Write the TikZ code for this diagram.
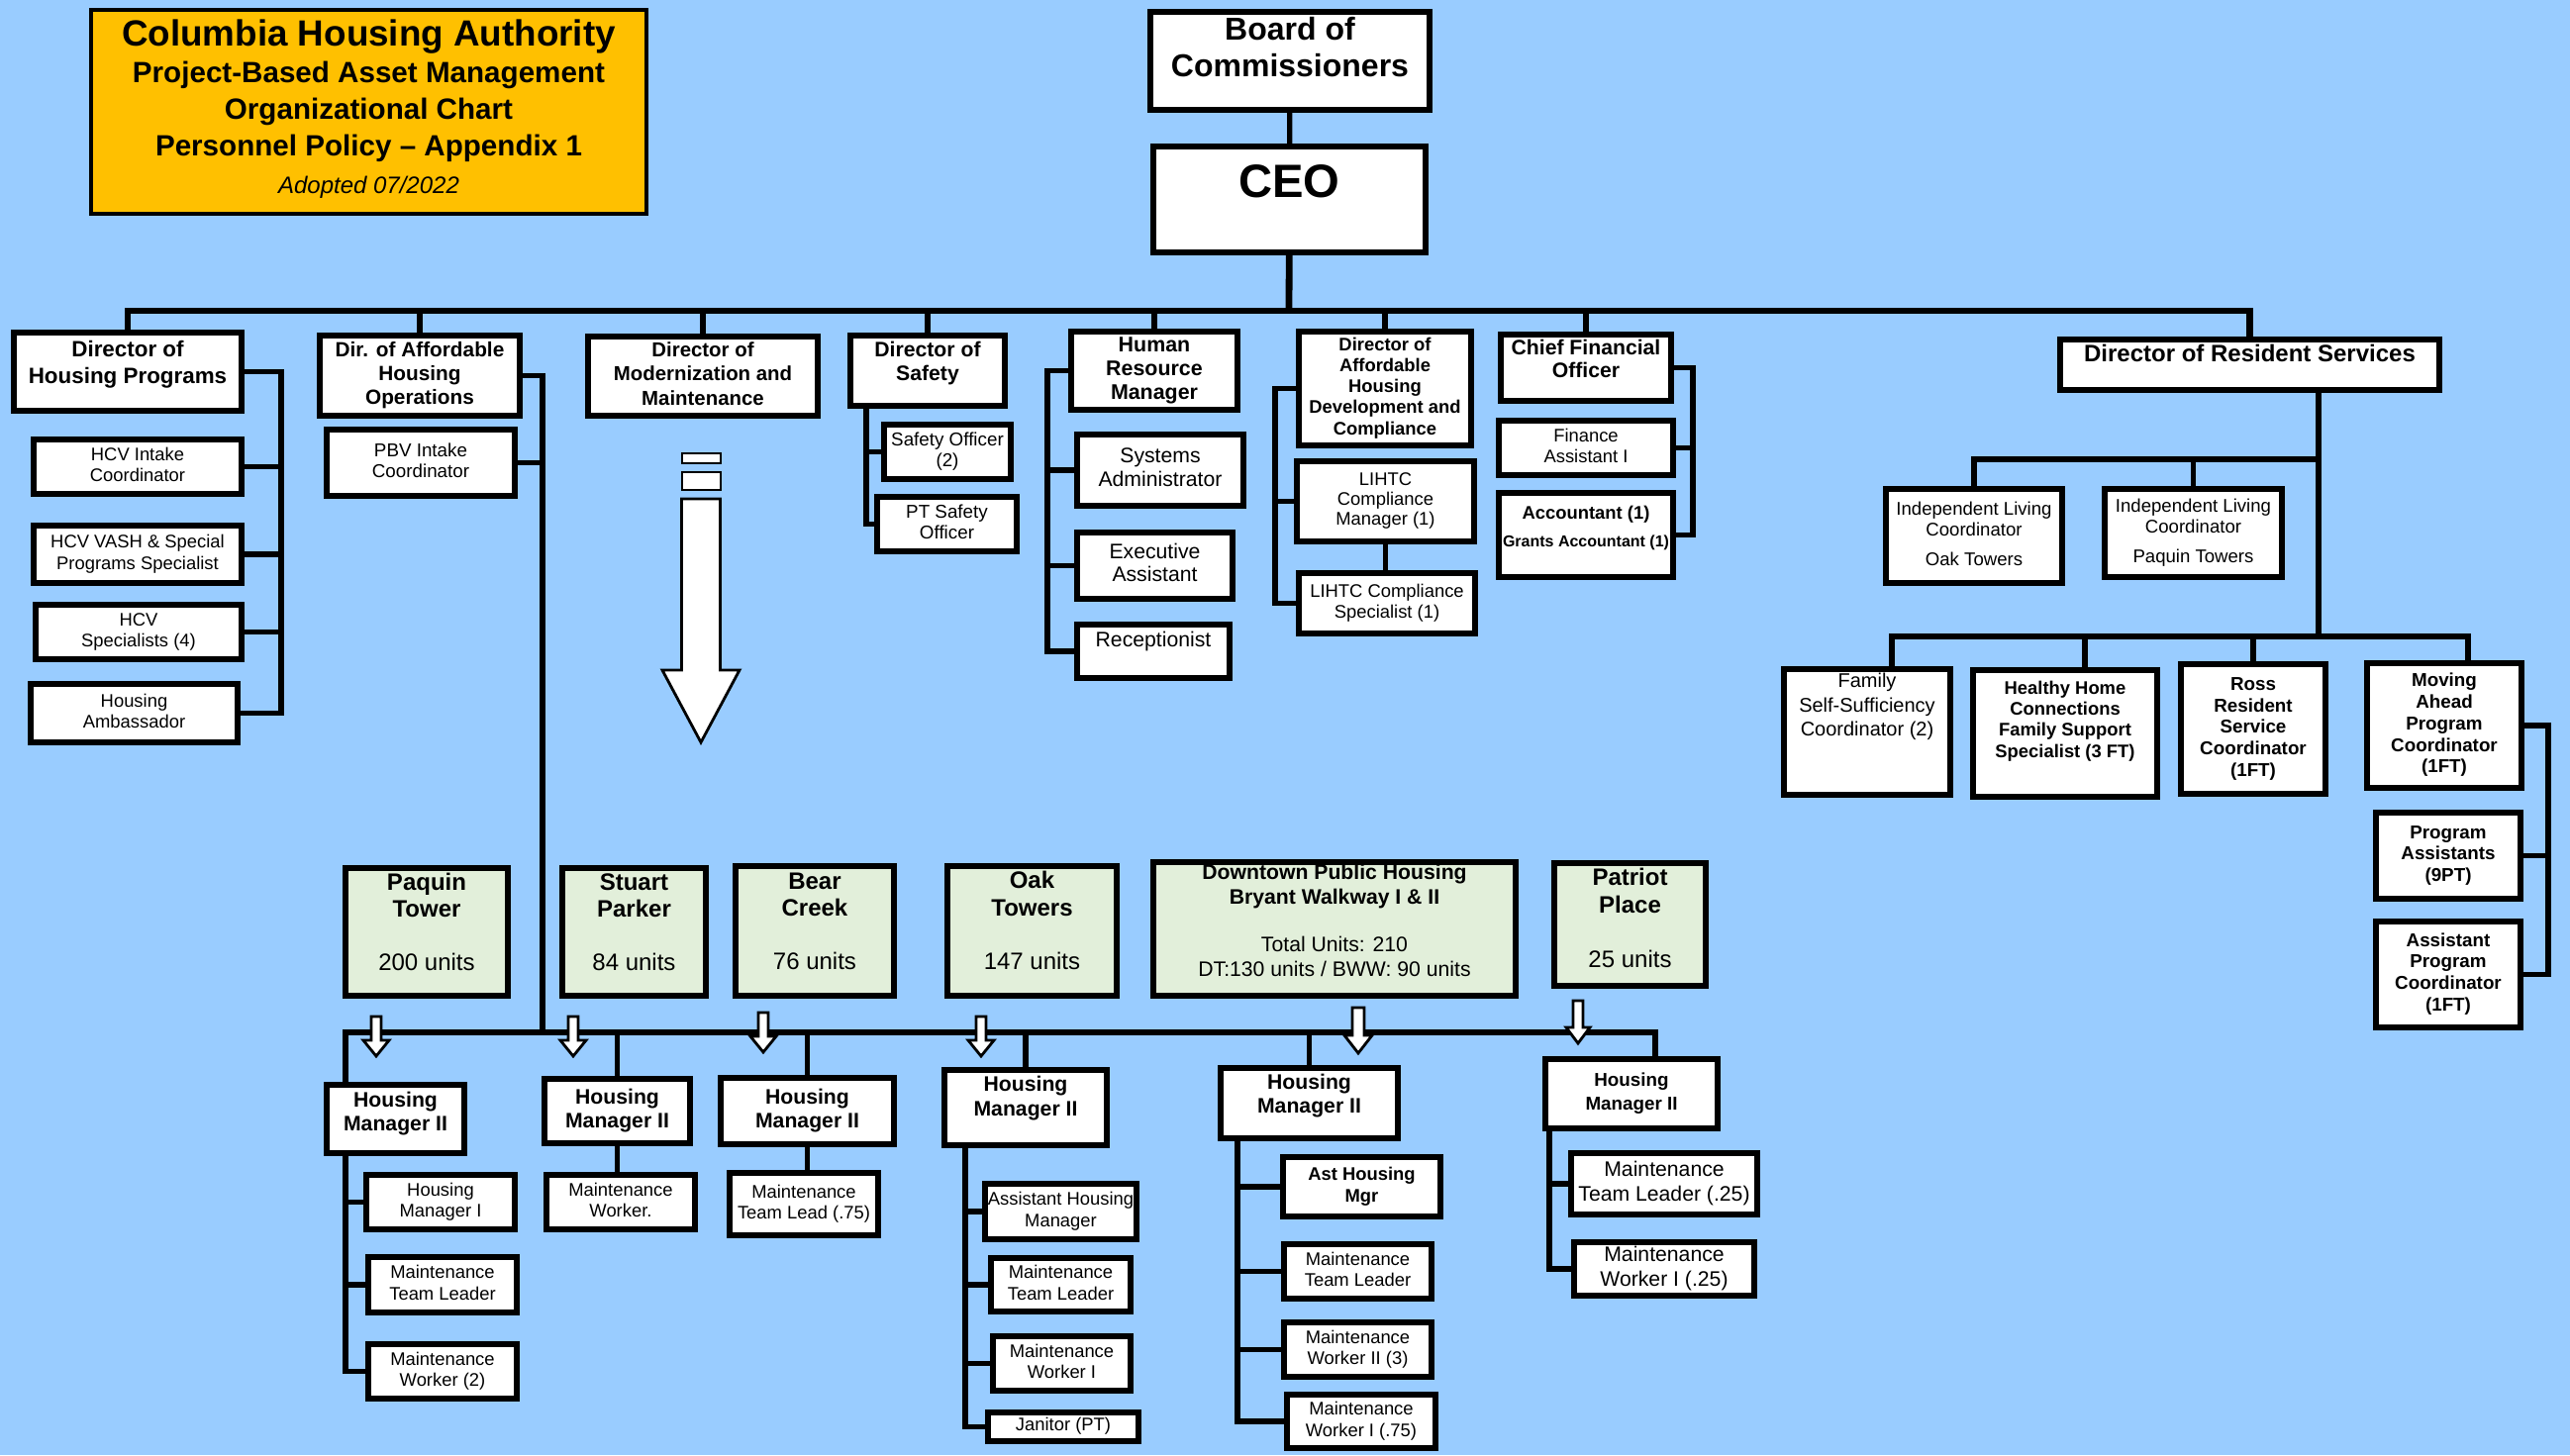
\documentclass[tikz,border=0pt]{standalone}
\usepackage{fontspec}
\setmainfont{Liberation Sans}
\definecolor{skyblue}{HTML}{99CCFF}
\definecolor{titlegold}{HTML}{FFC000}
\definecolor{propgreen}{HTML}{E2EFDA}
\newcommand\fsz[2]{\fontsize{#1}{#2}\selectfont}
\newcommand\lines[1]{\begin{tabular}{@{}c@{}}#1\end{tabular}}
% white block arrow pointing down: x, top, tip, half shaft, half head, head length
\newcommand\downblock[6]{%
  \filldraw[hollow] (#1-#4,#2) -- (#1+#4,#2) -- (#1+#4,#3-#6) -- (#1+#5,#3-#6)
    -- (#1,#3) -- (#1-#5,#3-#6) -- (#1-#4,#3-#6) -- cycle;}
\begin{document}
\begin{tikzpicture}[x=0.25pt, y=-0.25pt,
  spanbox/.style n args={4}{at={({(#1+#3)/2},{(#2+#4)/2})}, minimum width=(#3-#1)*0.25pt, minimum height=(#4-#2)*0.25pt},
  box/.style={draw, line width=1.5pt, fill=white, inner sep=0pt},
  dir/.style={box, font=\fsz{5.3}{6.2}\bfseries},
  staff/.style={box, line width=1.3pt, font=\fsz{4.6}{5.4}},
  staffb/.style={staff, font=\fsz{4.7}{5.45}\bfseries},
  prop/.style={box, fill=propgreen, font=\fsz{6}{6.8}},
  mgr/.style={box, font=\fsz{5.3}{6.2}\bfseries},
  titlebox/.style={draw, line width=0.8pt, fill=titlegold, inner sep=0pt, font=\fsz{7.4}{9.3}\bfseries},
  conn/.style={line width=1.3pt},
  bus/.style={line width=1.7pt},
  hollow/.style={fill=white, draw=black, line width=0.7pt}]
\path[use as bounding box, fill=skyblue] (0,0) rectangle (2596,1470);

% title
\node[titlebox, spanbox={92}{10}{653}{216}] (title) {\lines{{\fsz{9.2}{9.3}Columbia Housing Authority}\\Project-Based Asset Management\\Organizational Chart\\Personnel Policy – Appendix 1\\{\mdseries\itshape\fsz{6}{7}Adopted 07/2022}}};

% top of the chart
\node[dir, font=\fsz{8}{9.2}\bfseries, spanbox={1162}{12}{1444}{111}] (board) {\lines{Board of\\Commissioners\\[5pt]}};
\node[dir, font=\fsz{11.8}{14}\bfseries, spanbox={1165}{148}{1440}{255}] (ceo) {\lines{CEO\\[6.5pt]}};

% directors
\node[dir, font=\fsz{5.6}{6.7}\bfseries, spanbox={14}{336}{244}{415}] (dhp) {\lines{Director of\\Housing Programs\\[3.5pt]}};
\node[dir, font=\fsz{5.2}{6}\bfseries, spanbox={323}{339}{525}{420}] (daho) {\lines{Dir. of Affordable\\Housing\\Operations}};
\node[dir, font=\fsz{5.1}{6.1}\bfseries, spanbox={594}{340}{826}{420}] (dmm) {\lines{Director of\\Modernization and\\Maintenance}};
\node[dir, spanbox={859}{339}{1015}{410}] (safety) {\lines{Director of\\Safety\\[3.5pt]}};
\node[dir, font=\fsz{5.35}{6}\bfseries, spanbox={1082}{335}{1250}{414}] (hr) {\lines{Human\\Resource\\Manager}};
\node[dir, font=\fsz{4.6}{5.3}\bfseries, spanbox={1312}{335}{1486}{450}] (dahdc) {\lines{Director of\\Affordable\\Housing\\Development and\\Compliance}};
\node[dir, font=\fsz{5.3}{5.8}\bfseries, spanbox={1516}{338}{1688}{405}] (cfo) {\lines{Chief Financial\\Officer\\[3pt]}};
\node[dir, font=\fsz{6}{7}\bfseries, spanbox={2081}{343}{2464}{394}] (drs) {\lines{Director of Resident Services\\[4.5pt]}};

% housing programs
\node[staff, spanbox={34}{444}{244}{499}] (hcvi) {\lines{HCV Intake\\Coordinator}};
\node[staff, spanbox={34}{531}{244}{589}] (vash) {\lines{HCV VASH \& Special\\Programs Specialist}};
\node[staff, spanbox={36}{611}{244}{666}] (hcvs) {\lines{HCV\\Specialists (4)}};
\node[staff, spanbox={31}{691}{240}{750}] (hamb) {\lines{Housing\\Ambassador}};
\node[staff, font=\fsz{4.7}{5.4}, spanbox={330}{434}{520}{501}] (pbv) {\lines{PBV Intake\\Coordinator}};

% safety
\node[staff, font=\fsz{4.7}{5.4}, spanbox={893}{429}{1021}{484}] (safeoff) {\lines{Safety Officer\\(2)}};
\node[staff, font=\fsz{4.7}{5.4}, spanbox={886}{502}{1027}{557}] (ptsafe) {\lines{PT Safety\\Officer}};

% human resources
\node[staff, font=\fsz{5.3}{6}, spanbox={1088}{439}{1256}{511}] (sysadm) {\lines{Systems\\Administrator}};
\node[staff, font=\fsz{5.3}{5.8}, spanbox={1088}{538}{1245}{605}] (execa) {\lines{Executive\\Assistant}};
\node[staff, font=\fsz{5.3}{6.2}, spanbox={1088}{631}{1242}{685}] (recep) {\lines{Receptionist\\[4.5pt]}};

% development and compliance
\node[staff, font=\fsz{4.6}{5.1}, spanbox={1310}{466}{1489}{547}] (lihtcm) {\lines{LIHTC\\Compliance\\Manager (1)}};
\node[staff, font=\fsz{4.6}{5.3}, spanbox={1312}{579}{1490}{640}] (lihtcs) {\lines{LIHTC Compliance\\Specialist (1)}};

% finance
\node[staff, spanbox={1514}{425}{1690}{480}] (fina) {\lines{Finance\\Assistant I}};
\node[staff, font=\fsz{4.6}{5.4}\bfseries, spanbox={1514}{498}{1690}{583}] (acct) {\lines{Accountant (1)\\[1.6pt]{\fsz{4}{5}Grants Accountant (1)}\\[3pt]}};

% resident services
\node[staff, font=\fsz{4.65}{5.4}, spanbox={1905}{494}{2083}{589}] (iloak) {\lines{Independent Living\\Coordinator\\[2pt]Oak Towers}};
\node[staff, font=\fsz{4.65}{5.4}, spanbox={2126}{494}{2305}{583}] (ilpaq) {\lines{Independent Living\\Coordinator\\[2pt]Paquin Towers}};
\node[staff, font=\fsz{5}{6.1}, spanbox={1802}{676}{1970}{803}] (fss) {\lines{Family\\Self-Sufficiency\\Coordinator (2)\\[12.5pt]}};
\node[staffb, font=\fsz{4.6}{5.3}\bfseries, spanbox={1993}{677}{2179}{805}] (hhc) {\lines{Healthy Home\\Connections\\Family Support\\Specialist (3 FT)\\[6pt]}};
\node[staffb, spanbox={2203}{671}{2349}{802}] (ross) {\lines{Ross\\Resident\\Service\\Coordinator\\(1FT)}};
\node[staffb, spanbox={2391}{670}{2547}{796}] (mapc) {\lines{Moving\\Ahead\\Program\\Coordinator\\(1FT)}};
\node[staffb, spanbox={2400}{821}{2546}{908}] (pa) {\lines{Program\\Assistants\\(9PT)}};
\node[staffb, spanbox={2400}{931}{2546}{1038}] (apc) {\lines{Assistant\\Program\\Coordinator\\(1FT)}};

% properties
\node[prop, spanbox={349}{877}{513}{1006}] (paquin) {\lines{\textbf{Paquin}\\\textbf{Tower}\\[6.7pt]200 units\\[3.5pt]}};
\node[prop, spanbox={568}{877}{713}{1006}] (stuart) {\lines{\textbf{Stuart}\\\textbf{Parker}\\[6.7pt]84 units\\[3.5pt]}};
\node[prop, spanbox={743}{875}{903}{1006}] (bear) {\lines{\textbf{Bear}\\\textbf{Creek}\\[6.7pt]76 units\\[3.5pt]}};
\node[prop, spanbox={957}{875}{1128}{1006}] (oak) {\lines{\textbf{Oak}\\\textbf{Towers}\\[6.9pt]147 units\\[3.5pt]}};
\node[prop, font=\fsz{5.3}{6.2}, spanbox={1165}{871}{1531}{1006}] (downtown) {\lines{\textbf{Downtown Public Housing}\\\textbf{Bryant Walkway I \& II}\\[5.9pt]Total Units: 210\\DT:130 units / BWW: 90 units\\[3pt]}};
\node[prop, font=\fsz{6}{7.1}, spanbox={1570}{872}{1723}{996}] (patriot) {\lines{\textbf{Patriot}\\\textbf{Place}\\[6.5pt]25 units\\[2pt]}};

% site managers and staff
\node[mgr, spanbox={330}{1096}{469}{1165}] (hmP) {\lines{Housing\\Manager II\\[2.5pt]}};
\node[staff, spanbox={370}{1187}{520}{1242}] (hmiP) {\lines{Housing\\Manager I}};
\node[staff, spanbox={372}{1270}{522}{1326}] (mtlP) {\lines{Maintenance\\Team Leader}};
\node[staff, spanbox={372}{1358}{522}{1413}] (mwP) {\lines{Maintenance\\Worker (2)}};
\node[mgr, spanbox={550}{1090}{697}{1155}] (hmS) {\lines{Housing\\Manager II}};
\node[staff, spanbox={552}{1187}{702}{1242}] (mwS) {\lines{Maintenance\\Worker.}};
\node[mgr, spanbox={728}{1089}{903}{1156}] (hmB) {\lines{Housing\\Manager II}};
\node[staff, spanbox={737}{1185}{887}{1248}] (mtlB) {\lines{Maintenance\\Team Lead (.75)}};
\node[mgr, spanbox={954}{1081}{1118}{1157}] (hmO) {\lines{Housing\\Manager II\\[4.5pt]}};
\node[staff, spanbox={995}{1196}{1148}{1252}] (ahmO) {\lines{Assistant Housing\\Manager}};
\node[staff, spanbox={1001}{1271}{1142}{1325}] (mtlO) {\lines{Maintenance\\Team Leader}};
\node[staff, spanbox={1003}{1350}{1142}{1405}] (mwO) {\lines{Maintenance\\Worker I}};
\node[staff, spanbox={998}{1427}{1150}{1456}] (janO) {\lines{Janitor (PT)}};
\node[mgr, spanbox={1233}{1079}{1412}{1150}] (hmD) {\lines{Housing\\Manager II\\[3.5pt]}};
\node[staff, font=\fsz{4.6}{5.4}\bfseries, spanbox={1296}{1169}{1455}{1229}] (ahmD) {\lines{Ast Housing\\Mgr}};
\node[staff, spanbox={1297}{1257}{1446}{1312}] (mtlD) {\lines{Maintenance\\Team Leader}};
\node[staff, spanbox={1297}{1336}{1446}{1391}] (mw2D) {\lines{Maintenance\\Worker II (3)}};
\node[staff, spanbox={1300}{1409}{1450}{1463}] (mw1D) {\lines{Maintenance\\Worker I (.75)}};
\node[mgr, font=\fsz{4.7}{6}\bfseries, spanbox={1561}{1070}{1735}{1140}] (hmPP) {\lines{Housing\\Manager II}};
\node[staff, font=\fsz{5.3}{6.1}, spanbox={1587}{1165}{1775}{1227}] (mtlPP) {\lines{Maintenance\\Team Leader (.25)}};
\node[staff, font=\fsz{5.3}{6.1}, spanbox={1590}{1255}{1772}{1309}] (mwPP) {\lines{Maintenance\\Worker I (.25)}};

% buses and spines
\coordinate (tbus) at (1302,314);
\coordinate (pbus) at (548,1043);
\coordinate (ilbus) at (2342,464);
\coordinate (rsbus) at (2342,643);
\coordinate (hpS) at (284,0);
\coordinate (sfS) at (875,0);
\coordinate (hrS) at (1058,0);
\coordinate (dvS) at (1288,0);
\coordinate (cfS) at (1710,0);
\coordinate (maS) at (2574,0);
\coordinate (pqS) at (349,0);
\coordinate (okS) at (975,0);
\coordinate (dtS) at (1250,0);
\coordinate (ppS) at (1565,0);

\draw[conn] (board) -- (ceo);
\draw[bus] (ceo) -- (tbus);
\foreach \n in {dhp,daho,dmm,safety,hr,dahdc,cfo,drs}
  \draw[bus] (\n.north) |- (tbus);

\draw[conn] (dhp.east) -- (dhp.east -| hpS) |- (hamb.east);
\foreach \n in {hcvi,vash,hcvs}
  \draw[conn] (\n.east) -- (\n.east -| hpS);
\draw[conn] (daho.east) -| (pbus);
\draw[conn] (pbv.east) -- (pbv.east -| pbus);
\draw[conn] (safety.south -| sfS) |- (ptsafe.west);
\draw[conn] (safeoff.west) -- (safeoff.west -| sfS);
\draw[conn] (hr.west) -- (hr.west -| hrS) |- (recep.west);
\foreach \n in {sysadm,execa}
  \draw[conn] (\n.west) -- (\n.west -| hrS);
\draw[conn] (dahdc.west) -- (dahdc.west -| dvS) |- (lihtcs.west);
\draw[conn] (lihtcm.west) -- (lihtcm.west -| dvS);
\draw[conn] (lihtcm.south) -- (lihtcm.south |- lihtcs.north);
\draw[conn] (cfo.east) -- (cfo.east -| cfS) |- (acct.east);
\draw[conn] (fina.east) -- (fina.east -| cfS);

\draw[conn] (drs.south -| rsbus) -- (rsbus);
\draw[conn] (iloak.north) |- (ilbus);
\draw[conn] (ilpaq.north) |- (ilbus);
\draw[conn] (fss.north) ++(25,0) |- (rsbus);
\draw[conn] (hhc.north) ++(20,0) |- (rsbus);
\draw[conn] (ross.north) |- (rsbus);
\draw[conn] (mapc.north) ++(24,0) |- (rsbus);
\draw[conn] (mapc.east) -- (mapc.east -| maS) |- (apc.east);
\draw[conn] (pa.east) -- (pa.east -| maS);

% properties
\draw[conn] (hmP.north -| pqS) |- (pbus);
\foreach \n in {hmS,hmB,hmO,hmD}
  \draw[conn] (\n.north) |- (pbus);
\draw[conn] (hmPP.north) ++(24,0) |- (pbus);
\draw[conn] (hmP.south -| pqS) |- (mwP.west);
\foreach \n in {hmiP,mtlP}
  \draw[conn] (\n.west) -- (\n.west -| pqS);
\draw[conn] (hmS.south) -- (hmS.south |- mwS.north);
\draw[conn] (hmB.south) -- (hmB.south |- mtlB.north);
\draw[conn] (hmO.south -| okS) |- (janO.west);
\foreach \n in {ahmO,mtlO,mwO}
  \draw[conn] (\n.west) -- (\n.west -| okS);
\draw[conn] (hmD.south -| dtS) |- (mw1D.west);
\foreach \n in {ahmD,mtlD,mw2D}
  \draw[conn] (\n.west) -- (\n.west -| dtS);
\draw[conn] (hmPP.south -| ppS) |- (mwPP.west);
\draw[conn] (mtlPP.west) -- (mtlPP.west -| ppS);

% arrows from the sites
\downblock{380}{1027}{1067}{5}{13}{16}
\downblock{579}{1027}{1067}{5}{13}{16}
\downblock{771}{1023}{1063}{5}{13}{16}
\downblock{991}{1027}{1067}{5}{13}{16}
\downblock{1372}{1018}{1064}{6}{14}{18}
\downblock{1594}{1011}{1054}{5}{12}{16}
% modernization arrow
\draw[hollow] (689,458) rectangle (728,468);
\draw[hollow] (689,477) rectangle (728,495);
\downblock{708}{504}{750}{19.5}{39}{73}
\end{tikzpicture}
\end{document}
